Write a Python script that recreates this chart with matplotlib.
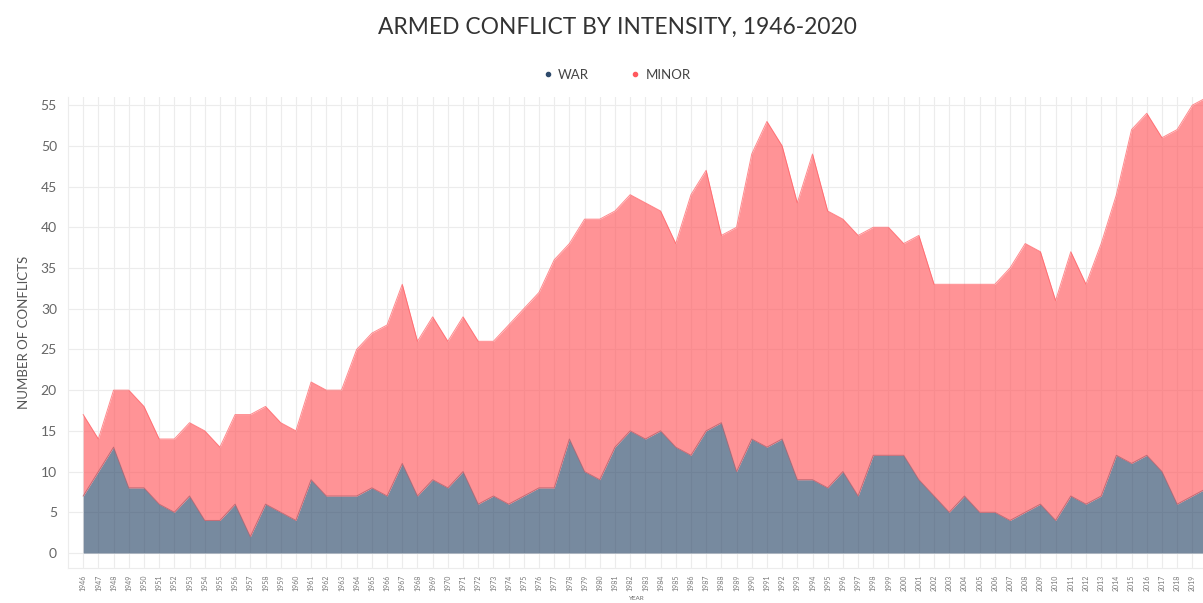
import numpy as np
import matplotlib
matplotlib.use("Agg")
import matplotlib.pyplot as plt
from matplotlib.lines import Line2D

plt.rcParams['font.family'] = ['Lato', 'DejaVu Sans']

## data (stacked: war + minor = total)
years = list(range(1946, 2021))
war = [7, 10, 13, 8, 8, 6, 5, 7, 4, 4,
       6, 2, 6, 5, 4, 9, 7, 7, 7, 8,
       7, 11, 7, 9, 8, 10, 6, 7, 6, 7,
       8, 8, 14, 10, 9, 13, 15, 14, 15, 13,
       12, 15, 16, 10, 14, 13, 14, 9, 9, 8,
       10, 7, 12, 12, 12, 9, 7, 5, 7, 5,
       5, 4, 5, 6, 4, 7, 6, 7, 12, 11,
       12, 10, 6, 7, 8]
total = [17, 14, 20, 20, 18, 14, 14, 16, 15, 13,
         17, 17, 18, 16, 15, 21, 20, 20, 25, 27,
         28, 33, 26, 29, 26, 29, 26, 26, 28, 30,
         32, 36, 38, 41, 41, 42, 44, 43, 42, 38,
         44, 47, 39, 40, 49, 53, 50, 43, 49, 42,
         41, 39, 40, 40, 38, 39, 33, 33, 33, 33,
         33, 35, 38, 37, 31, 37, 33, 38, 44, 52,
         54, 51, 52, 55, 56]
minor = [t - w for t, w in zip(total, war)]

series_names = ["WAR", "MINOR"]
colors = ["#2f4b6c", "#ff595e"]

W, H = 1203, 603
fig = plt.figure(figsize=(W / 100, H / 100), dpi=100)
# axes runs off the right edge like the cropped screenshot
ax = fig.add_axes([68 / W, 1 - 568 / H, (1203 - 68) / W, (568 - 97) / H])

ax.set_xticks(years)
ax.set_yticks(range(0, 56, 5))
ax.grid(True, color="#ececec", linewidth=0.8, zorder=0)
ax.set_axisbelow(True)

x = np.array(years)
w = np.array(war)
m = np.array(minor)
ax.fill_between(x, 0, w, color=colors[0], alpha=0.65, linewidth=0, zorder=2)
ax.fill_between(x, w, w + m, color=colors[1], alpha=0.65, linewidth=0, zorder=2)
ax.plot(x, w, color="#b4606c", linewidth=0.7, alpha=0.8, zorder=3)
ax.plot(x, w + m, color=colors[1], linewidth=0.7, alpha=0.7, zorder=3)

ax.set_xlim(1945.0, 2019.7)
ax.set_ylim(-1.84, 56.0)

for s in ["top", "right"]:
    ax.spines[s].set_visible(False)
for s in ["left", "bottom"]:
    ax.spines[s].set_color("#ececec")
    ax.spines[s].set_linewidth(0.8)

ax.tick_params(axis="both", length=0)
ax.tick_params(axis="y", labelsize=10, labelcolor="#666666", pad=8)
ax.tick_params(axis="x", labelsize=5, labelcolor="#777777", pad=5, labelrotation=90)

ax.set_ylabel("NUMBER OF CONFLICTS", fontsize=9.5, color="#555555", labelpad=8)
ax.set_xlabel("YEAR", fontsize=4.5, color="#666666", labelpad=3)

fig.text(617 / W, 1 - 27 / H, "ARMED CONFLICT BY INTENSITY, 1946-2020",
         ha="center", va="center", fontsize=16.4, color="#333333")

handles = [Line2D([], [], marker="o", linestyle="", markersize=3, color=c) for c in colors]
fig.legend(handles, series_names, loc="center", bbox_to_anchor=(616 / W, 1 - 75 / H),
           ncol=2, frameon=False, fontsize=9.5, labelcolor="#444444",
           handletextpad=0.3, columnspacing=3.0, handlelength=1.0)

fig.savefig("out.png", dpi=100)
